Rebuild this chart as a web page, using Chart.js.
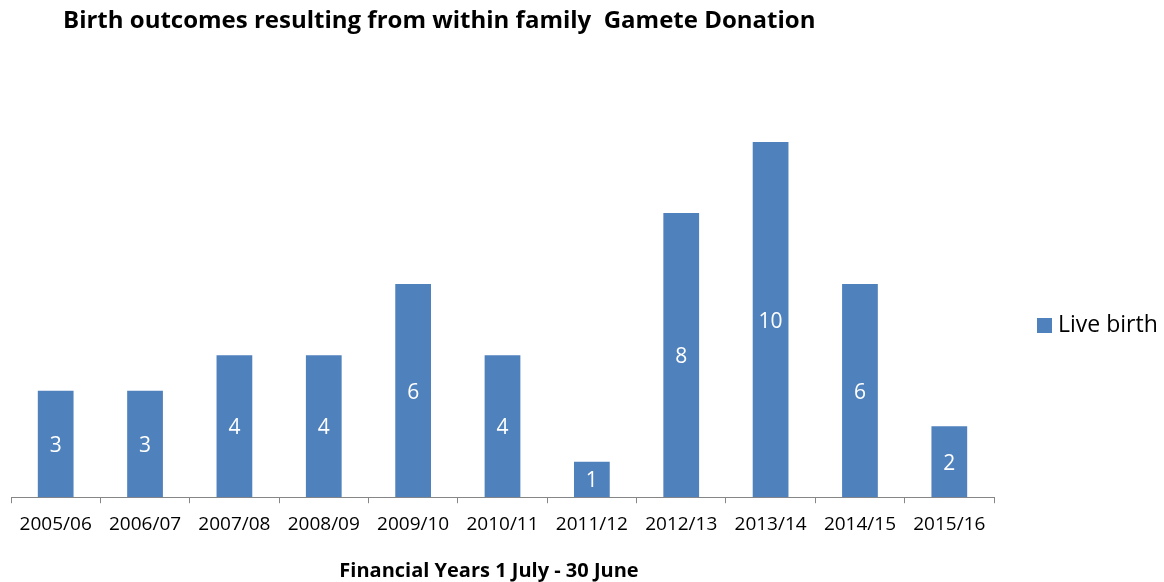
<!DOCTYPE html>
<html>
<head>
<meta charset="utf-8">
<script src="https://cdn.jsdelivr.net/npm/chart.js@4.4.1/dist/chart.umd.min.js"></script>
<style>
html,body{margin:0;padding:0;background:#fff;}
#wrap{width:1164px;height:582px;position:relative;}
</style>
</head>
<body>
<div id="wrap"><canvas id="c" width="1164" height="582"></canvas></div>
<script>
const categories = ["2005/06","2006/07","2007/08","2008/09","2009/10","2010/11","2011/12","2012/13","2013/14","2014/15","2015/16"];
const liveBirths = [3,3,4,4,6,4,1,8,10,6,2];
const seriesLabel = "Live birth";
const chartTitle = "Birth outcomes resulting from within family  Gamete Donation";
const xAxisTitle = "Financial Years 1 July - 30 June";

const FONT = "'Open Sans', 'Liberation Sans', sans-serif";
const BAR = "#4F81BD";

const extras = {
  id: 'extras',
  afterDatasetsDraw(chart) {
    const ctx = chart.ctx;
    const meta = chart.getDatasetMeta(0);
    ctx.save();
    // data labels
    ctx.fillStyle = '#ffffff';
    ctx.font = "21px " + FONT;
    ctx.textAlign = 'center';
    ctx.textBaseline = 'middle';
    meta.data.forEach((bar, i) => {
      const v = chart.data.datasets[0].data[i];
      ctx.fillText(String(v), bar.x, (bar.y + bar.base) / 2 + 2);
    });
    // title
    ctx.fillStyle = '#000000';
    ctx.font = "bold 24px " + FONT;
    ctx.textAlign = 'left';
    ctx.fillText(chartTitle, 63, 21);
    // x axis title
    ctx.font = "bold 20px " + FONT;
    ctx.textAlign = 'center';
    ctx.fillText(xAxisTitle, 489, 571);
    // legend
    ctx.fillStyle = BAR;
    ctx.fillRect(1037, 318, 15, 15);
    ctx.fillStyle = '#000000';
    ctx.font = "23px " + FONT;
    ctx.textAlign = 'left';
    ctx.fillText(seriesLabel, 1058, 325);
    ctx.restore();
  }
};

new Chart(document.getElementById('c'), {
  type: 'bar',
  data: {
    labels: categories,
    datasets: [{
      label: seriesLabel,
      data: liveBirths,
      backgroundColor: BAR,
      borderWidth: 0,
      categoryPercentage: 1.0,
      barPercentage: 0.4
    }]
  },
  options: {
    responsive: false,
    animation: false,
    devicePixelRatio: 1,
    layout: { padding: { left: 11, right: 170, top: 71, bottom: 36 } },
    plugins: {
      legend: { display: false },
      title: { display: false },
      tooltip: { enabled: false }
    },
    scales: {
      x: {
        grid: {
          offset: true,
          drawOnChartArea: false,
          drawTicks: true,
          tickLength: 6,
          color: '#868686'
        },
        border: { display: true, color: '#868686', width: 1 },
        ticks: {
          color: '#000000',
          font: { family: FONT, size: 19 },
          padding: 10,
          maxRotation: 0,
          autoSkip: false
        }
      },
      y: {
        display: false,
        min: 0,
        max: 12
      }
    }
  },
  plugins: [extras]
});
</script>
</body>
</html>
